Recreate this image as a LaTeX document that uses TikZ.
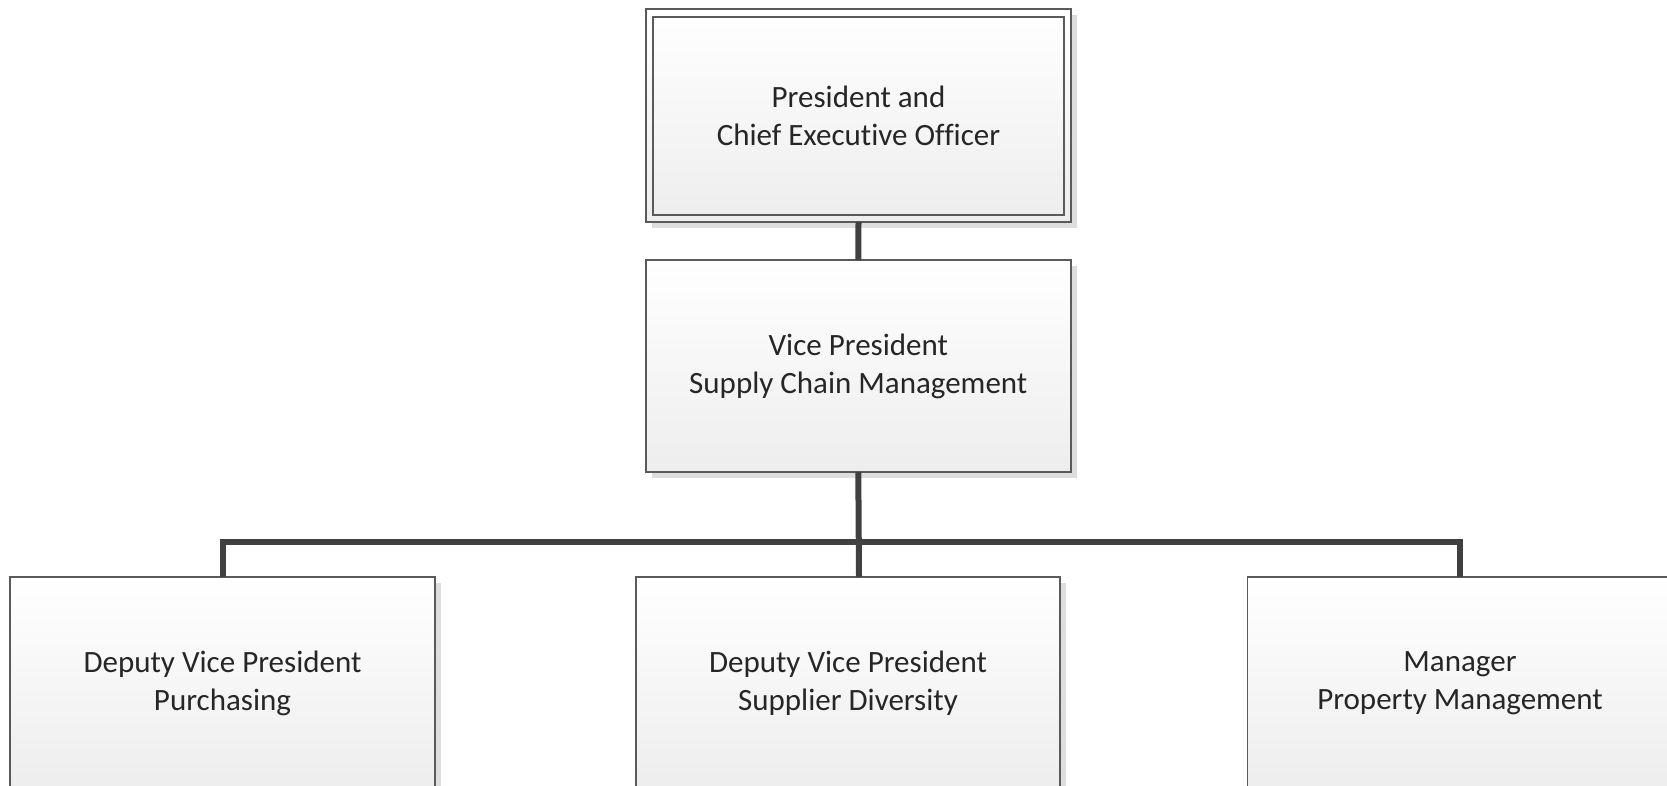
\documentclass[tikz,border=0pt]{standalone}
\usepackage{fontspec}
\setmainfont[Ligatures=NoCommon]{Carlito}
\usetikzlibrary{shadows}
\definecolor{linec}{HTML}{404040}
\definecolor{boxline}{HTML}{5A5A5A}
\definecolor{txt}{HTML}{262626}
\definecolor{shade}{HTML}{DDDDDD}
\tikzset{
  orgbox/.style={draw=boxline, line width=1.4pt, rectangle, minimum width=425pt, minimum height=212pt,
    inner sep=0pt, outer sep=0pt, top color=white, bottom color=black!7, align=center,
    text=txt, font=\fontsize{31}{38}\selectfont,
    drop shadow={shadow xshift=6pt, shadow yshift=-6pt, fill=shade, opacity=1}},
  conn/.style={draw=linec, line width=6pt, line join=miter, line cap=butt},
}
\begin{document}
\begin{tikzpicture}[x=1pt, y=-1pt]
\useasboundingbox (0,0) rectangle (1667,786);
\clip (0,0) rectangle (1667,786);
\node[orgbox, minimum height=213pt] (ceo) at (858.5,115.5) {President and\\Chief Executive Officer};
\draw[boxline, line width=1.4pt] ([shift={(7pt,-8pt)}]ceo.north west) rectangle ([shift={(-7pt,7pt)}]ceo.south east);
\node[orgbox] (vp) at (858.3,366) {Vice President\\Supply Chain Management};
\node[orgbox] (dvp1) at (222.5,683) {Deputy Vice President\\Purchasing};
\node[orgbox, minimum width=424pt] (dvp2) at (848,683) {Deputy Vice President\\Supplier Diversity};
\node[orgbox] (mgr) at (1460,683) {Manager\\Property Management};
\coordinate (bus) at (0,541.7);
\coordinate (d2top) at (859,577);
\draw[conn] (ceo.south) -- (vp.north);
\draw[conn] (vp.south) -- (d2top);
\draw[conn] (dvp1.north) -- (dvp1.north |- bus) -- (mgr.north |- bus) -- (mgr.north);
\end{tikzpicture}
\end{document}
